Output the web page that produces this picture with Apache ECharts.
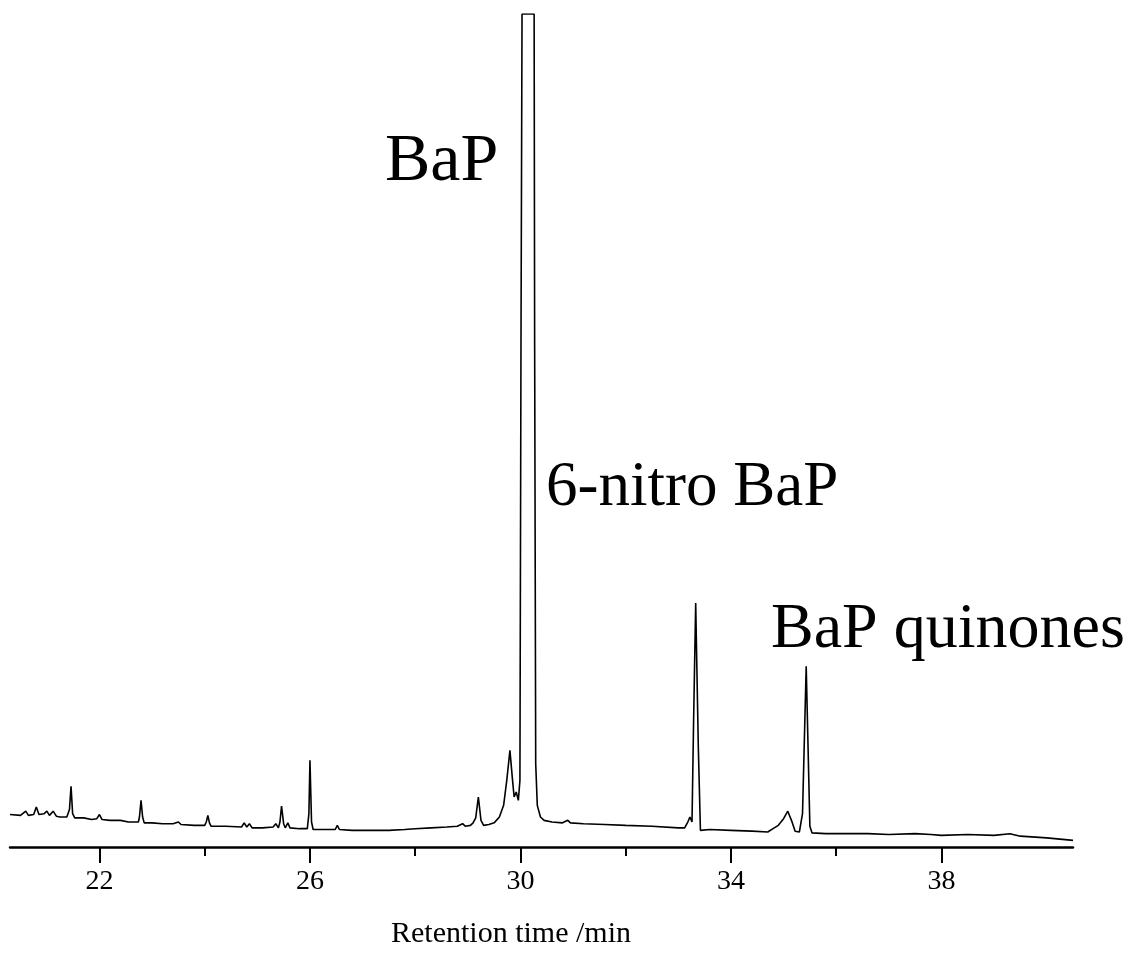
<!DOCTYPE html>
<html>
<head>
<meta charset="utf-8">
<script src="https://cdn.jsdelivr.net/npm/echarts@6/dist/echarts.min.js"></script>
<style>
html,body{margin:0;padding:0;background:#fff;}
#chart{width:1134px;height:953px;}
</style>
</head>
<body>
<div id="chart"></div>
<script>
// Retention time (min) and detector signal (% of full scale)
var retentionTime = [
20.3,20.5,20.6,20.65,20.75,20.8,20.85,20.95,21.0,21.05,21.12,21.18,21.25,21.38,21.43,21.46,21.49,21.53,21.7,21.85,
21.95,22.0,22.05,22.2,22.4,22.55,22.74,22.76,22.79,22.82,22.85,23.0,23.2,23.4,23.5,23.55,23.8,24.0,24.03,24.06,
24.09,24.12,24.4,24.7,24.75,24.8,24.85,24.9,25.1,25.3,25.35,25.4,25.43,25.46,25.5,25.53,25.58,25.62,25.8,25.95,
25.98,26.0,26.03,26.06,26.3,26.48,26.52,26.56,26.8,27.2,27.5,27.8,28.0,28.3,28.6,28.8,28.9,28.95,29.05,29.1,
29.15,29.2,29.25,29.3,29.4,29.5,29.6,29.68,29.74,29.8,29.85,29.88,29.92,29.96,29.99,30.01,30.03,30.26,30.27,30.29,
30.32,30.38,30.45,30.6,30.8,30.9,30.95,31.2,31.6,32.0,32.5,33.0,33.12,33.18,33.22,33.26,33.29,33.33,33.38,33.42,
33.6,34.0,34.4,34.7,34.8,34.9,35.0,35.08,35.15,35.22,35.3,35.36,35.43,35.5,35.54,35.8,36.2,36.6,37.0,
37.5,37.8,38.0,38.5,39.0,39.3,39.5,40.0,40.5
];
var signal = [
3.9,3.8,4.3,3.8,3.9,4.8,3.9,4.0,4.3,3.8,4.3,3.7,3.6,3.6,4.5,7.3,4.0,3.5,3.5,3.3,
3.4,3.9,3.3,3.2,3.2,3.0,3.0,3.6,5.6,3.6,2.9,2.9,2.8,2.8,3.0,2.7,2.6,2.6,3.0,3.8,
2.9,2.5,2.5,2.4,2.9,2.4,2.8,2.3,2.3,2.4,2.8,2.3,3.0,4.9,2.8,2.3,2.9,2.3,2.2,2.2,
4.0,10.4,3.0,2.1,2.1,2.1,2.6,2.1,2.0,2.0,2.0,2.1,2.2,2.3,2.4,2.5,2.8,2.5,2.6,2.9,
3.5,6.0,3.2,2.6,2.7,2.9,3.6,5.0,8.0,11.6,8.0,6.0,6.6,5.6,8.0,60,100,100,60,10,
5.0,3.6,3.2,3.0,2.9,3.2,2.9,2.8,2.7,2.6,2.5,2.3,2.3,3.0,3.6,3.0,15,29.3,12,2.0,
2.1,2.0,1.9,1.8,2.2,2.6,3.4,4.3,3.2,1.9,1.8,4.0,21.7,2.5,1.7,1.6,1.6,1.6,1.5,
1.6,1.5,1.4,1.5,1.4,1.6,1.3,1.1,0.8
];
var majorTicks = [22, 26, 30, 34, 38];
var minorTicks = [24, 28, 32, 36];
var axisTitle = 'Retention time /min';
var peakLabels = ['BaP', '6-nitro BaP', 'BaP quinones'];

var points = retentionTime.map(function (t, i) { return [t, signal[i]]; });

var chart = echarts.init(document.getElementById('chart'), null, {renderer: 'canvas'});
var serif = '"Liberation Serif", "DejaVu Serif", serif';
chart.setOption({
  backgroundColor: '#fff',
  animation: false,
  grid: {left: 10, right: 61, top: 14, bottom: 106},
  xAxis: [{
    type: 'value', min: 20.3, max: 40.5, position: 'bottom',
    axisLine: {show: true, lineStyle: {color: '#000', width: 2.5}},
    axisTick: {show: true, length: 16, inside: false, customValues: majorTicks, lineStyle: {color: '#000', width: 2}},
    axisLabel: {show: true, customValues: majorTicks, color: '#000', fontFamily: serif, fontSize: 28, margin: 21},
    splitLine: {show: false}
  }, {
    type: 'value', min: 20.3, max: 40.5, position: 'bottom',
    axisLine: {show: false},
    axisTick: {show: true, length: 9, customValues: minorTicks, lineStyle: {color: '#000', width: 2}},
    axisLabel: {show: false},
    splitLine: {show: false}
  }],
  yAxis: {type: 'value', min: 0, max: 100, show: false, splitLine: {show: false}},
  series: [{
    type: 'line', data: points, xAxisIndex: 0, showSymbol: false, symbol: 'none',
    clip: true, lineStyle: {color: '#000', width: 1.6}, silent: true
  }],
  graphic: [
    {type: 'text', left: 385, top: 128, style: {text: peakLabels[0], font: '68px ' + serif, fill: '#000', verticalAlign: 'middle'}, silent: true},
    {type: 'text', left: 546, top: 457, style: {text: peakLabels[1], font: '63px ' + serif, fill: '#000', verticalAlign: 'middle'}, silent: true},
    {type: 'text', left: 771, top: 598, style: {text: peakLabels[2], font: '64px ' + serif, fill: '#000', verticalAlign: 'middle'}, silent: true},
    {type: 'text', x: 511, y: 934, style: {text: axisTitle, font: '30px ' + serif, fill: '#000', align: 'center', verticalAlign: 'middle'}, silent: true}
  ]
});
</script>
</body>
</html>
